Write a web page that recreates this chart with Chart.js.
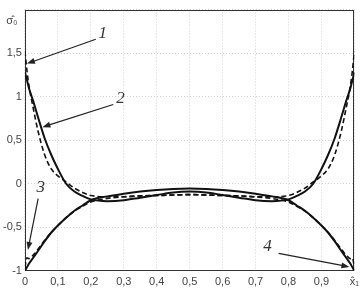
<!DOCTYPE html>
<html>
<head>
<meta charset="utf-8">
<script src="https://cdn.jsdelivr.net/npm/chart.js@4"></script>
<style>
  html, body { margin: 0; padding: 0; background: #fff; }
  #wrap { width: 364px; height: 290px; position: relative; }
</style>
</head>
<body>
<div id="wrap"><canvas id="chart"></canvas></div>
<script>
// sampled x positions (dimensionless coordinate)
const xs = [0, 0.006, 0.012, 0.025, 0.04, 0.06, 0.08, 0.1, 0.125, 0.15, 0.175, 0.2, 0.25, 0.3, 0.35, 0.4, 0.45,
  0.5, 0.55, 0.6, 0.65, 0.7, 0.75, 0.8, 0.825, 0.85, 0.875, 0.9, 0.92, 0.94, 0.96, 0.975, 0.988, 0.994, 1];

// curve 1 (dashed, upper)
const curve1 = [1.52, 1.30, 1.13, 0.87, 0.60, 0.33, 0.17, 0.09, 0.02, -0.05, -0.10, -0.135, -0.15, -0.15, -0.14, -0.135, -0.13,
  -0.125, -0.13, -0.135, -0.14, -0.15, -0.15, -0.135, -0.10, -0.05, 0.02, 0.09, 0.17, 0.33, 0.60, 0.87, 1.13, 1.30, 1.52];
// curve 2 (solid, upper)
const curve2 = [1.28, 1.19, 1.10, 0.95, 0.76, 0.52, 0.33, 0.17, 0.0, -0.09, -0.14, -0.18, -0.20, -0.19, -0.16, -0.13, -0.10,
  -0.09, -0.10, -0.13, -0.16, -0.19, -0.20, -0.18, -0.14, -0.09, 0.0, 0.17, 0.33, 0.52, 0.76, 0.95, 1.10, 1.19, 1.28];
// curve 3 (dashed, lower)
const curve3 = [-0.96, -0.85, -0.86, -0.82, -0.75, -0.65, -0.56, -0.48, -0.39, -0.315, -0.26, -0.21, -0.17, -0.15, -0.14, -0.135, -0.13,
  -0.125, -0.13, -0.135, -0.14, -0.15, -0.17, -0.21, -0.26, -0.315, -0.39, -0.48, -0.56, -0.65, -0.75, -0.82, -0.86, -0.85, -0.96];
// curve 4 (solid, lower)
const curve4 = [-1.0, -0.96, -0.92, -0.85, -0.77, -0.66, -0.56, -0.48, -0.39, -0.31, -0.25, -0.19, -0.145, -0.115, -0.09, -0.072, -0.06,
  -0.055, -0.06, -0.072, -0.09, -0.115, -0.145, -0.19, -0.25, -0.31, -0.39, -0.48, -0.56, -0.66, -0.77, -0.85, -0.92, -0.96, -1.0];

const xTicks = [0, 0.1, 0.2, 0.3, 0.4, 0.5, 0.6, 0.7, 0.8, 0.9, 1];
const xTickLabels = ['0', '0,1', '0,2', '0,3', '0,4', '0,5', '0,6', '0,7', '0,8', '0,9', 'x\u0302\u2081'];
const yTicks = [-1, -0.5, 0, 0.5, 1, 1.5, 2];
const yTickLabels = ['-1', '-0,5', '0', '0,5', '1', '1,5', ''];
const yAxisTitle = '\u03C3\u0302\u2080';

// callouts: label, text position, arrow start, arrow tip (data coords)
const callouts = [
  { text: '1', at: [0.236, 1.72], from: [0.215, 1.66], to: [0.006, 1.38] },
  { text: '2', at: [0.29, 0.98], from: [0.268, 0.91], to: [0.053, 0.65] },
  { text: '3', at: [0.048, -0.04], from: [0.04, -0.17], to: [0.009, -0.76] },
  { text: '4', at: [0.736, -0.72], from: [0.77, -0.80], to: [0.985, -0.955] }
];

function toPoints(ys) {
  return xs.map((x, i) => ({ x: x, y: ys[i] }));
}

function lineSet(label, ys, dashed) {
  return {
    label: label,
    data: toPoints(ys),
    borderColor: '#111',
    borderWidth: dashed ? 1.6 : 2,
    borderDash: dashed ? [5, 3] : [],
    pointRadius: 0,
    fill: false,
    cubicInterpolationMode: 'monotone'
  };
}

const framePlugin = {
  id: 'frame',
  beforeDatasetsDraw(chart) {
    const { ctx, chartArea: a } = chart;
    ctx.save();
    ctx.strokeStyle = '#333';
    ctx.lineWidth = 1;
    ctx.strokeRect(Math.round(a.left) + 0.5, Math.round(a.top) + 0.5,
      Math.round(a.right - a.left) - 1, Math.round(a.bottom - a.top) - 1);
    ctx.restore();
  },
  afterDraw(chart) {
    const { ctx, scales } = chart;
    const sx = scales.x, sy = scales.y;
    ctx.save();
    // y axis title in place of the top tick
    ctx.fillStyle = '#444';
    ctx.font = '11px "Liberation Sans", Arial, sans-serif';
    ctx.textAlign = 'center';
    ctx.textBaseline = 'middle';
    ctx.fillText(yAxisTitle, 12, sy.getPixelForValue(2) + 11);

    // numbered callouts with arrows
    callouts.forEach(c => {
      const x1 = sx.getPixelForValue(c.from[0]), y1 = sy.getPixelForValue(c.from[1]);
      const x2 = sx.getPixelForValue(c.to[0]), y2 = sy.getPixelForValue(c.to[1]);
      ctx.strokeStyle = '#222';
      ctx.fillStyle = '#222';
      ctx.lineWidth = 1.2;
      const ang = Math.atan2(y2 - y1, x2 - x1);
      const hl = 8, hw = 3;
      ctx.beginPath();
      ctx.moveTo(x1, y1);
      ctx.lineTo(x2 - Math.cos(ang) * hl * 0.8, y2 - Math.sin(ang) * hl * 0.8);
      ctx.stroke();
      ctx.beginPath();
      ctx.moveTo(x2, y2);
      ctx.lineTo(x2 - Math.cos(ang) * hl + Math.sin(ang) * hw, y2 - Math.sin(ang) * hl - Math.cos(ang) * hw);
      ctx.lineTo(x2 - Math.cos(ang) * hl - Math.sin(ang) * hw, y2 - Math.sin(ang) * hl + Math.cos(ang) * hw);
      ctx.closePath();
      ctx.fill();
      ctx.fillStyle = '#333';
      ctx.font = 'italic 17px "Liberation Serif", "Times New Roman", serif';
      ctx.textAlign = 'center';
      ctx.textBaseline = 'middle';
      ctx.fillText(c.text, sx.getPixelForValue(c.at[0]), sy.getPixelForValue(c.at[1]));
    });
    ctx.restore();
  }
};

const tickFont = { family: '"Liberation Sans", Arial, sans-serif', size: 11 };

new Chart(document.getElementById('chart').getContext('2d'), {
  type: 'line',
  data: {
    datasets: [
      lineSet('1', curve1, true),
      lineSet('2', curve2, false),
      lineSet('3', curve3, true),
      lineSet('4', curve4, false)
    ]
  },
  options: {
    responsive: true,
    maintainAspectRatio: false,
    animation: false,
    layout: { padding: { top: -7, right: -4, bottom: -4, left: 0 } },
    plugins: { legend: { display: false }, tooltip: { enabled: false } },
    scales: {
      x: {
        type: 'linear',
        min: 0,
        max: 1,
        afterBuildTicks: (axis) => { axis.ticks = xTicks.map(v => ({ value: v })); },
        ticks: {
          font: tickFont,
          color: '#444',
          padding: 5,
          maxRotation: 0,
          autoSkip: false,
          callback: (val) => xTickLabels[xTicks.indexOf(val)]
        },
        grid: { color: '#d2d2d2', drawTicks: false },
        border: { display: false, dash: [1, 2] }
      },
      y: {
        type: 'linear',
        min: -1,
        max: 2,
        afterBuildTicks: (axis) => { axis.ticks = yTicks.map(v => ({ value: v })); },
        ticks: {
          font: tickFont,
          color: '#444',
          padding: 3,
          autoSkip: false,
          callback: (val) => yTickLabels[yTicks.indexOf(val)]
        },
        grid: { color: '#d2d2d2', drawTicks: false },
        border: { display: false, dash: [1, 2] }
      }
    }
  },
  plugins: [framePlugin]
});
</script>
</body>
</html>
